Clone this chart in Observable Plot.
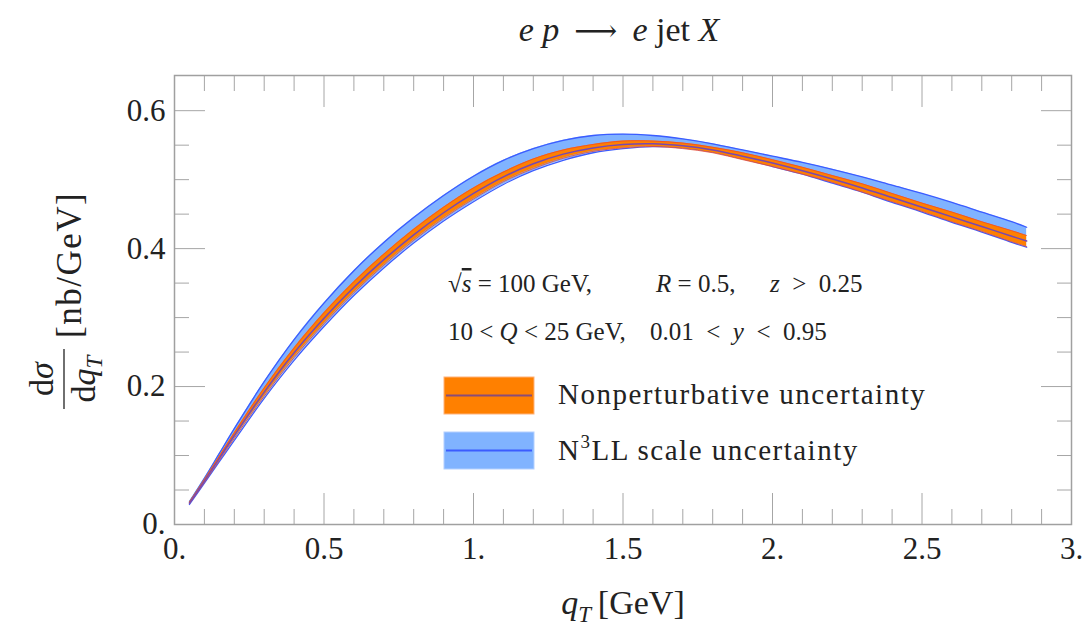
<!DOCTYPE html>
<html><head><meta charset="utf-8">
<script src="https://cdn.jsdelivr.net/npm/d3@7"></script>
<script src="https://cdn.jsdelivr.net/npm/@observablehq/plot@0.6"></script>
<style>body{margin:0;background:#fff;}</style>
</head><body><div id="chart"></div>
<script>
// ---- data ----
const qT        = [0.05, 0.1, 0.15, 0.2, 0.3, 0.4, 0.5, 0.6, 0.7, 0.8, 0.9, 1.0, 1.1, 1.2, 1.3, 1.4, 1.5, 1.6, 1.7, 1.8, 1.9, 2.0, 2.1, 2.2, 2.3, 2.4, 2.5, 2.6, 2.7, 2.8, 2.85];
const central   = [0.031,0.063,0.096,0.129,0.192,0.249,0.299,0.344,0.384,0.420,0.452,0.480,0.504,0.523,0.537,0.546,0.551,0.552,0.549,0.543,0.534,0.524,0.513,0.501,0.488,0.474,0.460,0.446,0.432,0.418,0.411];
const npLow     = [0.030,0.061,0.093,0.125,0.186,0.242,0.291,0.336,0.376,0.412,0.444,0.472,0.497,0.516,0.531,0.541,0.546,0.548,0.545,0.539,0.529,0.519,0.508,0.496,0.482,0.468,0.454,0.439,0.425,0.410,0.403];
const npHigh    = [0.032,0.065,0.099,0.133,0.198,0.256,0.307,0.352,0.392,0.428,0.460,0.488,0.511,0.530,0.543,0.551,0.556,0.556,0.553,0.547,0.539,0.529,0.518,0.506,0.494,0.480,0.466,0.453,0.439,0.426,0.419];
const scaleLow  = [0.029,0.060,0.091,0.122,0.183,0.238,0.287,0.332,0.372,0.408,0.440,0.468,0.493,0.513,0.528,0.539,0.545,0.548,0.546,0.540,0.530,0.519,0.508,0.495,0.482,0.467,0.453,0.438,0.424,0.409,0.402];
const scaleHigh = [0.033,0.067,0.103,0.139,0.207,0.268,0.321,0.368,0.409,0.445,0.477,0.505,0.528,0.545,0.557,0.564,0.566,0.564,0.559,0.552,0.543,0.534,0.525,0.515,0.504,0.492,0.480,0.467,0.453,0.439,0.431];

const xMajorTicks = [0, 0.5, 1, 1.5, 2, 2.5, 3];
const xTickLabels = ["0.", "0.5", "1.", "1.5", "2.", "2.5", "3."];
const xMinorTicks = [0.1,0.2,0.3,0.4,0.6,0.7,0.8,0.9,1.1,1.2,1.3,1.4,1.6,1.7,1.8,1.9,2.1,2.2,2.3,2.4,2.6,2.7,2.8,2.9];
const yMajorTicks = [0, 0.2, 0.4, 0.6];
const yTickLabels = ["0.", "0.2", "0.4", "0.6"];
const yMinorTicks = [0.05,0.1,0.15,0.25,0.3,0.35,0.45,0.5,0.55];

const legendLabels = ["Nonperturbative uncertainty", "N³LL scale uncertainty"];

const rows = qT.map((q, i) => ({q, c: central[i], npLo: npLow[i], npHi: npHigh[i], scLo: scaleLow[i], scHi: scaleHigh[i]}));

const serif = "'Liberation Serif', 'DejaVu Serif', serif";
const tickColor = "#a6a6a6";
const curve = "catmull-rom";

const plot = Plot.plot({
  width: 1088, height: 629,
  marginTop: 75, marginRight: 17, marginBottom: 105, marginLeft: 174,
  x: {domain: [0, 3]},
  y: {domain: [0, 0.651]},
  style: {fontFamily: serif, fontSize: "30px", background: "#fff", color: "#222"},
  marks: [
    Plot.areaY(rows, {x: "q", y1: "scLo", y2: "scHi", fill: "#80b3ff", curve}),
    Plot.line(rows, {x: "q", y: "scHi", stroke: "#3b5cff", strokeWidth: 1.3, curve}),
    Plot.line(rows, {x: "q", y: "scLo", stroke: "#3b5cff", strokeWidth: 1.3, curve}),
    Plot.areaY(rows, {x: "q", y1: "npLo", y2: "npHi", fill: "#ff8000", curve}),
    Plot.line(rows, {x: "q", y: "npHi", stroke: "#f04a2a", strokeWidth: 0.8, curve}),
    Plot.line(rows, {x: "q", y: "npLo", stroke: "#f04a2a", strokeWidth: 0.8, curve}),
    Plot.line(rows, {x: "q", y: "c", stroke: "#7848b0", strokeWidth: 1.5, curve}),
    // inward frame ticks
    Plot.axisX({anchor: "bottom", ticks: xMajorTicks, tickSize: 31, dy: -31, fill: "none", stroke: tickColor, label: null}),
    Plot.axisX({anchor: "bottom", ticks: xMinorTicks, tickSize: 15, dy: -15, fill: "none", stroke: tickColor, label: null}),
    Plot.axisX({anchor: "top", ticks: xMajorTicks, tickSize: 31, dy: 31, fill: "none", stroke: tickColor, label: null}),
    Plot.axisX({anchor: "top", ticks: xMinorTicks, tickSize: 15, dy: 15, fill: "none", stroke: tickColor, label: null}),
    Plot.axisY({anchor: "left", ticks: yMajorTicks, tickSize: 31, dx: 31, fill: "none", stroke: tickColor, label: null}),
    Plot.axisY({anchor: "left", ticks: yMinorTicks, tickSize: 15, dx: 15, fill: "none", stroke: tickColor, label: null}),
    Plot.axisY({anchor: "right", ticks: yMajorTicks, tickSize: 31, dx: -31, fill: "none", stroke: tickColor, label: null}),
    Plot.axisY({anchor: "right", ticks: yMinorTicks, tickSize: 15, dx: -15, fill: "none", stroke: tickColor, label: null}),
    // tick labels
    Plot.axisX({anchor: "bottom", ticks: xMajorTicks, tickSize: 0, tickPadding: 12, fontSize: 31, fill: "#222",
      tickFormat: d => xTickLabels[xMajorTicks.indexOf(d)], label: null}),
    Plot.axisY({anchor: "left", ticks: yMajorTicks, tickSize: 0, tickPadding: 9, fontSize: 31, fill: "#222",
      tickFormat: d => yTickLabels[yMajorTicks.indexOf(d)], label: null}),
    Plot.frame({stroke: "#a0a0a0", strokeWidth: 1.5})
  ]
});

document.getElementById("chart").appendChild(plot);
const svg = d3.select(plot);
const ink = "#222";

function addText(g, x, y, size, parts, anchor = "start") {
  const t = g.append("text").attr("x", x).attr("y", y).attr("font-size", size)
    .attr("fill", ink).attr("text-anchor", anchor).attr("font-family", serif)
    .style("white-space", "pre");
  for (const p of parts) {
    const s = t.append("tspan").text(p.t);
    if (p.it) s.attr("font-style", "italic");
    if (p.x != null) s.attr("x", p.x);
    if (p.dy != null) s.attr("dy", p.dy);
    if (p.size) s.attr("font-size", p.size);
    if (p.over) s.style("text-decoration", "overline");
  }
  return t;
}

// title
addText(svg, 619, 41, 34, [
  {t: "e", it: true}, {t: "\u2005"}, {t: "p", it: true}, {t: "\u2002\u27F6\u2002", size: 30},
  {t: "e", it: true}, {t: "\u2005jet\u2005"}, {t: "X", it: true}
], "middle");

// x-axis title
addText(svg, 623, 614, 34, [
  {t: "q", it: true}, {t: "T", it: true, size: 23, dy: 8}, {t: "\u2009[GeV]", dy: -8}
], "middle");

// y-axis title (rotated)
const gy = svg.append("g").attr("transform", "translate(0,629) rotate(-90)");
addText(gy, 250, 53, 34, [{t: "d"}, {t: "σ", it: true}], "middle");
gy.append("line").attr("x1", 220).attr("x2", 280).attr("y1", 64).attr("y2", 64).attr("stroke", ink).attr("stroke-width", 1.3);
addText(gy, 250, 95, 34, [{t: "d"}, {t: "q", it: true}, {t: "T", it: true, size: 23, dy: 7}], "middle");
addText(gy, 291, 81, 35, [{t: "[nb/GeV]"}]).attr("letter-spacing", 1.5);

// annotation
addText(svg, 448, 292, 25, [
  {t: "√"}, {t: "s", it: true, over: true}, {t: " = 100 GeV,"},
  {t: "R", it: true, x: 656}, {t: " = 0.5,"},
  {t: "z", it: true, x: 770}, {t: "\u2002>\u20020.25"}
]);
addText(svg, 448, 340, 25, [
  {t: "10 < "}, {t: "Q", it: true}, {t: " < 25 GeV,"},
  {t: "0.01\u2002<\u2002", x: 650}, {t: "y", it: true}, {t: "\u2002<\u20020.95"}
]);

// legend
svg.append("rect").attr("x", 444).attr("y", 377).attr("width", 90).attr("height", 37).attr("fill", "#ff8000").attr("stroke", "#ffb27a").attr("stroke-width", 1);
svg.append("line").attr("x1", 446).attr("x2", 532).attr("y1", 395.5).attr("y2", 395.5).attr("stroke", "#8a4c78").attr("stroke-width", 2);
svg.append("rect").attr("x", 444).attr("y", 432).attr("width", 90).attr("height", 37).attr("fill", "#80b3ff").attr("stroke", "#b3d0ff").attr("stroke-width", 1);
svg.append("line").attr("x1", 446).attr("x2", 532).attr("y1", 450.5).attr("y2", 450.5).attr("stroke", "#3b5cff").attr("stroke-width", 2);
addText(svg, 558, 404, 29, [{t: legendLabels[0]}]).attr("letter-spacing", 1.5);
addText(svg, 558, 460, 29, [{t: "N"}, {t: "3", size: 19, dy: -12}, {t: "LL scale uncertainty", dy: 12}]).attr("letter-spacing", 1.5);
</script>
</body></html>
